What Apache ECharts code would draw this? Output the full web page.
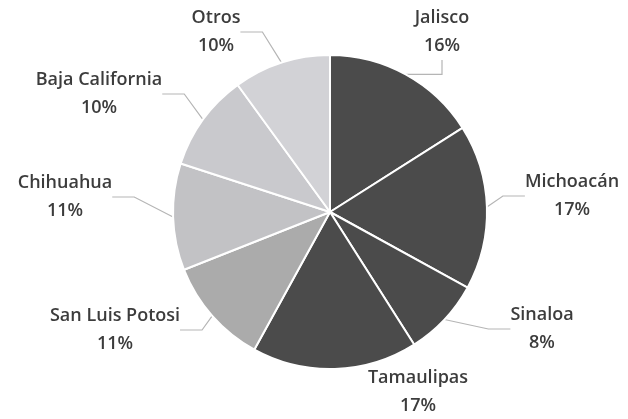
<!DOCTYPE html>
<html><head><meta charset="utf-8">
<script src="https://cdn.jsdelivr.net/npm/echarts@6/dist/echarts.min.js"></script>
<style>html,body{margin:0;padding:0;background:#fff}#c{width:628px;height:419px}</style>
</head><body><div id="c"></div>
<script>
const categories = ["Jalisco", "Michoacán", "Sinaloa", "Tamaulipas", "San Luis Potosi", "Chihuahua", "Baja California", "Otros"];
const values = [16, 17, 8, 17, 11, 11, 10, 10];
const colors = ["#4b4b4b", "#4b4b4b", "#4b4b4b", "#4b4b4b", "#ababab", "#c2c2c5", "#c9c9cd", "#d2d2d6"];
// label anchor positions (layout only)
const labelAnchors = [[442, 32], [572, 196], [542, 329], [418, 392], [115, 330], [65, 197], [99, 94], [216, 32]];
const hideLine = ["Tamaulipas"];

const chart = echarts.init(document.getElementById('c'));
chart.setOption({
  animation: false,
  series: [{
    type: 'pie',
    center: [330, 212],
    radius: [0, 157],
    startAngle: 90,
    clockwise: true,
    data: categories.map((n, i) => ({
      name: n, value: values[i], itemStyle: {color: colors[i]},
      labelLine: {show: hideLine.indexOf(n) < 0}
    })),
    itemStyle: {borderColor: '#fff', borderWidth: 2},
    label: {
      show: true,
      formatter: '{b}\n{d}%',
      color: '#3c3c3c',
      fontFamily: 'Open Sans',
      fontSize: 18,
      fontWeight: 600,
      lineHeight: 28,
      align: 'center'
    },
    labelLayout: function (p) {
      const a = labelAnchors[p.dataIndex];
      return {x: a[0], y: a[1], align: 'center', verticalAlign: 'middle'};
    },
    labelLine: {show: true, length: 14, length2: 22, lineStyle: {color: '#b5b5b5', width: 1.2}},
    emphasis: {disabled: true}
  }]
});
</script></body></html>
